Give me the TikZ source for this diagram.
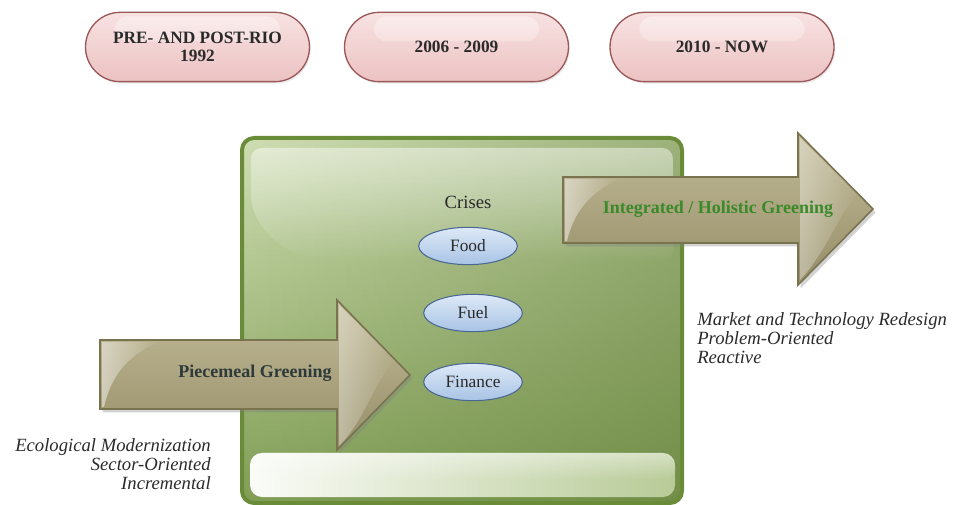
\documentclass[tikz,border=0pt]{standalone}
\usepackage{fontspec}
\setmainfont{Liberation Serif}
\usetikzlibrary{shadows,fadings,shapes.geometric,shapes.misc}
\definecolor{pinkTop}{HTML}{F8E2E2}
\definecolor{pinkBot}{HTML}{ECC2C2}
\definecolor{pinkLine}{HTML}{9A5858}
\definecolor{grTop}{HTML}{CFDEB3}
\definecolor{grBot}{HTML}{819E56}
\definecolor{grDark}{HTML}{5E7A35}
\definecolor{grLine}{HTML}{6A8C38}
\definecolor{tanTop}{HTML}{C2BB98}
\definecolor{tanBot}{HTML}{968E68}
\definecolor{tanLine}{HTML}{7A7350}
\definecolor{bluTop}{HTML}{DDE9F7}
\definecolor{bluBot}{HTML}{A8C3E5}
\definecolor{bluLine}{HTML}{4A6893}
\definecolor{txtGreen}{HTML}{3A8A2A}
\definecolor{txtDark}{HTML}{2A2A2A}
\definecolor{txtSlate}{HTML}{2E3A3A}
\tikzfading[name=fadedown, top color=transparent!15, bottom color=transparent!100]
\tikzfading[name=faderight, left color=transparent!20, right color=transparent!100]
\tikzfading[name=fadeleft, left color=transparent!100, right color=transparent!0]
\tikzset{
  pill/.style={rounded rectangle, draw=pinkLine, line width=1pt,
    top color=pinkTop, bottom color=pinkBot,
    minimum width=168pt, minimum height=52pt, inner sep=0pt,
    align=center, text=txtDark, font=\fontsize{13}{15}\selectfont\bfseries,
    drop shadow={shadow xshift=1pt, shadow yshift=-1.5pt, opacity=0.15},
    path picture={\fill[white, opacity=0.5, path fading=fadedown, rounded corners=10pt]
      ([xshift=22pt,yshift=-3pt]path picture bounding box.north west) rectangle
      ([xshift=-22pt,yshift=-22pt]path picture bounding box.north east);}},
  crisis/.style={ellipse, draw=bluLine, line width=0.8pt,
    top color=bluTop, bottom color=bluBot,
    minimum width=74pt, minimum height=28pt, inner sep=0pt,
    text=txtDark, font=\fontsize{13}{15}\selectfont},
  bigarrow/.style={draw=tanLine, line width=1.2pt, top color=tanTop, bottom color=tanBot,
    drop shadow={shadow xshift=2pt, shadow yshift=-2.5pt, opacity=0.35}},
  arrowtext/.style={font=\fontsize{13.5}{15}\selectfont\bfseries, inner sep=0pt},
  note/.style={font=\fontsize{14}{14.5}\selectfont\itshape, text=txtDark, inner sep=0pt}
}
\begin{document}
\begin{tikzpicture}[x=0.75pt,y=-0.75pt]
\useasboundingbox (0,0) rectangle (956,505);

% period pills
\node[pill] (p1) at (197.5,47) {PRE- AND POST-RIO\\[-2pt]1992};
\node[pill] (p2) at (456.5,47) {2006 - 2009};
\node[pill] (p3) at (722,47) {2010 - NOW};

% green frame
\shade[top color=grTop, bottom color=grBot, rounded corners=9pt]
  (242,138) rectangle (682,503);
\fill[grDark, opacity=0.45, path fading=fadeleft, rounded corners=9pt]
  (242,138) rectangle (682,503);
\fill[white, opacity=0.55, path fading=fadedown, rounded corners=8pt]
  (251,148) -- (673,148) -- (673,262) -- (345,262)
  .. controls (285,262) and (251,225) .. (251,185) -- cycle;
\draw[grLine, line width=3pt, rounded corners=9pt] (242,138) rectangle (682,503);
\shade[left color=white!90!grTop, right color=grTop!70!grBot, rounded corners=9pt]
  (250,453) rectangle (675,497);
\fill[white, opacity=0.5, path fading=fadedown, rounded corners=9pt]
  (250,453) rectangle (675,480);

% crises
\node[font=\fontsize{14}{15}\selectfont, text=txtDark] (crises) at (468,202) {Crises};
\node[crisis] (food) at (468,246) {Food};
\node[crisis] (fuel) at (473,313) {Fuel};
\node[crisis] (fin) at (473,382) {Finance};

% piecemeal arrow
\path[bigarrow] (100,340) -- (337,340) -- (337,300) -- (410,375) -- (337,450)
  -- (337,409) -- (100,409) -- cycle;
\fill[white, opacity=0.6, path fading=faderight]
  (102,342) -- (160,342) .. controls (125,355) and (110,380) .. (104,407) -- (102,407) -- cycle;
\fill[white, opacity=0.45, path fading=faderight]
  (339,305) -- (395,360) .. controls (375,380) and (365,420) .. (339,446) -- cycle;
\node[arrowtext, text=txtSlate] (pg) at (255,373) {Piecemeal Greening};

% integrated arrow
\path[bigarrow] (563,177) -- (798,177) -- (798,133) -- (873,209) -- (798,285)
  -- (798,243) -- (563,243) -- cycle;
\fill[white, opacity=0.6, path fading=faderight]
  (565,179) -- (620,179) .. controls (588,192) and (573,215) .. (567,241) -- (565,241) -- cycle;
\fill[white, opacity=0.45, path fading=faderight]
  (800,138) -- (858,194) .. controls (838,214) and (828,250) .. (800,280) -- cycle;
\node[arrowtext, text=txtGreen] (ig) at (718,209) {Integrated / Holistic Greening};

% notes
\node[note, anchor=north west, align=left] (rnote) at (697,312)
  {Market and Technology Redesign\\Problem-Oriented\\Reactive};
\node[note, anchor=north east, align=right] (lnote) at (211,438)
  {Ecological Modernization\\Sector-Oriented\\Incremental};
\end{tikzpicture}
\end{document}
